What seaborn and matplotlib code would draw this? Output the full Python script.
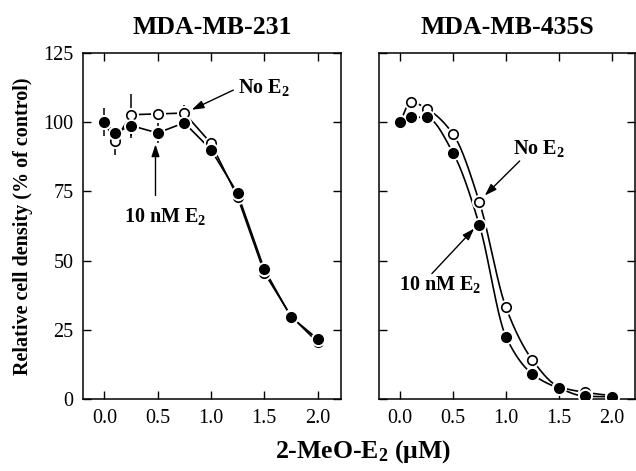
import numpy as np
import pandas as pd
import matplotlib
matplotlib.use("Agg")
import matplotlib.pyplot as plt
import seaborn as sns

# ---------------- data ----------------
titles = ["MDA-MB-231", "MDA-MB-435S"]
x_ticks = [0.0, 0.5, 1.0, 1.5, 2.0]
y_ticks = [0, 25, 50, 75, 100, 125]

# MDA-MB-231
x231 = [0.0, 0.1, 0.25, 0.5, 0.75, 1.0, 1.25, 1.5, 1.75, 2.0]
e2_231 = [100.0, 96.1, 98.8, 96.1, 99.8, 90.1, 74.3, 46.9, 29.7, 21.7]
e2_231_err = [5.0, 2.0, 4.5, 3.5, 3.0, 1.5, 2.0, 1.0, 1.0, 1.0]
no_231 = [100.0, 93.2, 102.7, 103.0, 103.3, 92.4, 73.0, 45.7, 30.0, 20.5]
no_231_err = [2.0, 5.0, 7.6, 1.0, 3.0, 2.5, 1.5, 1.0, 1.0, 1.0]

# MDA-MB-435S
x435 = [0.0, 0.1, 0.25, 0.5, 0.75, 1.0, 1.25, 1.5, 1.75, 2.0]
e2_435 = [100.0, 101.9, 101.7, 88.9, 62.7, 22.5, 9.0, 3.9, 1.0, 0.8]
no_435 = [100.0, 107.3, 104.9, 95.7, 71.0, 33.1, 14.1, 4.5, 2.4, 1.2]
no_435_err = [0.0, 0.0, 0.0, 0.0, 0.0, 0.0, 0.0, 0.0, 0.0, 1.5]

# ---------------- style ----------------
sns.set_theme(style="ticks")
plt.rcParams["font.family"] = ["Liberation Serif", "DejaVu Serif"]
plt.rcParams["mathtext.fontset"] = "custom"
plt.rcParams["mathtext.rm"] = "Liberation Serif:bold"
plt.rcParams["mathtext.it"] = "Liberation Serif:bold"
plt.rcParams["mathtext.bf"] = "Liberation Serif:bold"
for k in ["text.color", "axes.labelcolor", "xtick.color", "ytick.color", "axes.edgecolor"]:
    plt.rcParams[k] = "black"


def pchip(x, y, xs):
    x = np.asarray(x, float)
    y = np.asarray(y, float)
    h = np.diff(x)
    d = np.diff(y) / h
    n = len(x)
    m = np.zeros(n)
    for k in range(1, n - 1):
        if d[k - 1] * d[k] <= 0:
            m[k] = 0.0
        else:
            w1 = 2 * h[k] + h[k - 1]
            w2 = h[k] + 2 * h[k - 1]
            m[k] = (w1 + w2) / (w1 / d[k - 1] + w2 / d[k])
    m[0] = d[0]
    m[-1] = d[-1]
    out = np.empty_like(xs)
    for i, xv in enumerate(xs):
        k = min(max(np.searchsorted(x, xv) - 1, 0), n - 2)
        t = (xv - x[k]) / h[k]
        h00 = 2 * t**3 - 3 * t**2 + 1
        h10 = t**3 - 2 * t**2 + t
        h01 = -2 * t**3 + 3 * t**2
        h11 = t**3 - t**2
        out[i] = h00 * y[k] + h10 * h[k] * m[k] + h01 * y[k + 1] + h11 * h[k] * m[k + 1]
    return out


fig = plt.figure(figsize=(6.36, 4.71), dpi=100)
axL = fig.add_axes([83 / 636, 72 / 471, 258 / 636, 346 / 471])
axR = fig.add_axes([379 / 636, 72 / 471, 256 / 636, 346 / 471])

ms = 6.8
lw = 1.2


def draw_markers(ax, x, y, filled, z):
    # white halo to create gaps in the lines
    ax.plot(x, y, "o", ms=ms + 3, color="white", mec="white", zorder=z, linestyle="none")
    df = pd.DataFrame({"x": x, "y": y})
    sns.scatterplot(data=df, x="x", y="y", ax=ax, s=ms**2,
                    color="black" if filled else "white",
                    edgecolor="black", linewidth=1.2, zorder=z + 0.5, legend=False)


# ---- left panel ----
dfL = pd.DataFrame({"x": x231 + x231,
                    "y": no_231 + e2_231,
                    "g": ["no"] * len(x231) + ["e2"] * len(x231)})
sns.lineplot(data=dfL, x="x", y="y", units="g", estimator=None, sort=False,
             color="black", lw=lw, ax=axL, zorder=1)
axL.errorbar(x231, no_231, yerr=no_231_err, fmt="none", ecolor="black", elinewidth=1.1, capsize=0, zorder=1)
axL.errorbar(x231, e2_231, yerr=e2_231_err, fmt="none", ecolor="black", elinewidth=1.1, capsize=0, zorder=1)
draw_markers(axL, x231, no_231, False, 3)
draw_markers(axL, x231, e2_231, True, 5)

# ---- right panel ----
xs = np.linspace(0.0, 2.0, 300)
xs_e = np.linspace(0.1, 2.0, 300)
curve = pd.DataFrame({"x": np.concatenate([xs, xs_e]),
                      "y": np.concatenate([pchip(x435, no_435, xs),
                                           pchip(x435[1:], e2_435[1:], xs_e)]),
                      "g": ["no"] * len(xs) + ["e2"] * len(xs_e)})
sns.lineplot(data=curve, x="x", y="y", units="g", estimator=None, sort=False,
             color="black", lw=lw, ax=axR, zorder=1)
axR.errorbar(x435, no_435, yerr=no_435_err, fmt="none", ecolor="black", elinewidth=1.0, capsize=0, zorder=4)
draw_markers(axR, x435, no_435, False, 2)
draw_markers(axR, x435, e2_435, True, 5)

# ---- axes formatting ----
for ax, title in zip([axL, axR], titles):
    ax.set_xlim(-0.2, 2.22)
    ax.set_ylim(0, 125)
    ax.set_xticks(x_ticks)
    ax.set_xticklabels([f"{v:.1f}" for v in x_ticks], fontsize=14.5)
    ax.set_yticks(y_ticks)
    ax.tick_params(direction="in", length=6, width=1.0, top=True, right=True,
                   colors="black", pad=7)
    for s in ax.spines.values():
        s.set_visible(True)
        s.set_linewidth(1.1)
        s.set_color("black")
    ax.set_xlabel("")
    ax.set_ylabel("")
    ax.set_title(title, fontsize=18.5, fontweight="bold", pad=14, color="black")
    ax.set_facecolor("white")

axL.set_yticklabels([str(v) for v in y_ticks], fontsize=14.5)
axR.set_yticklabels([])
axL.set_ylabel("Relative cell density (% of control)", fontsize=14.5,
               fontweight="bold", labelpad=7, color="black")

fig.text(363 / 636, 1 - 452 / 471, "2-MeO-E$_2$ (\u03bcM)", fontsize=18.5,
         fontweight="bold", ha="center", va="center", color="black")

# ---- annotations ----
arrow = dict(arrowstyle="-|>,head_length=0.6,head_width=0.2", color="black", lw=1.0,
             shrinkA=0, shrinkB=0)
axL.annotate("", xy=(0.82, 104.5), xytext=(1.21, 111.6), arrowprops=arrow)
axL.text(1.5, 112.5, "No E$_2$", fontsize=14.5, fontweight="bold", ha="center", va="center")
axL.annotate("", xy=(0.48, 92), xytext=(0.48, 73.5), arrowprops=arrow)
axL.text(0.57, 66, "10 nM E$_2$", fontsize=14.5, fontweight="bold", ha="center", va="center")

axR.annotate("", xy=(0.80, 73.5), xytext=(1.13, 86), arrowprops=arrow)
axR.text(1.31, 90.6, "No E$_2$", fontsize=14.5, fontweight="bold", ha="center", va="center")
axR.annotate("", xy=(0.70, 61.6), xytext=(0.30, 45.3), arrowprops=arrow)
axR.text(0.38, 41.5, "10 nM E$_2$", fontsize=14.5, fontweight="bold", ha="center", va="center")

fig.savefig("out.png", dpi=100, facecolor="white")
